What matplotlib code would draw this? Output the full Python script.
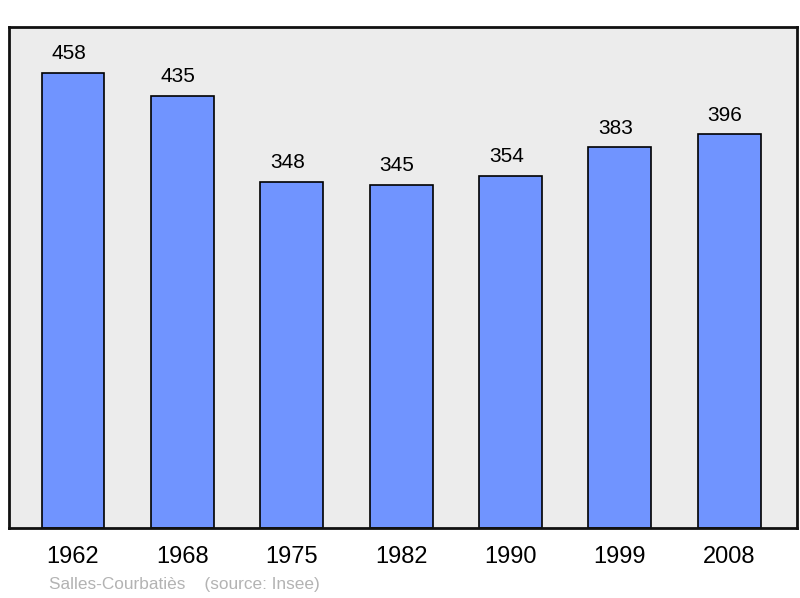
import matplotlib
matplotlib.use("Agg")
import matplotlib.pyplot as plt

years = ["1962", "1968", "1975", "1982", "1990", "1999", "2008"]
population = [458, 435, 348, 345, 354, 383, 396]

plt.rcParams['font.family'] = ['Liberation Sans', 'DejaVu Sans']

W, H = 800, 598
fig = plt.figure(figsize=(W/100, H/100), dpi=100)
ax = fig.add_axes([9/W, (H-528)/H, 788/W, 501/H])
ax.set_facecolor('#ececec')

x = list(range(len(years)))
ax.bar(x, population, width=0.575, color='#7094ff', edgecolor='black', linewidth=1.2, zorder=2)
ax.set_xlim(-0.585, 6.62)
ax.set_ylim(0, 504)

for xi, v in zip(x, population):
    ax.annotate(str(v), (xi, v), xytext=(-3, 7), textcoords='offset points',
                ha='center', va='bottom', fontsize=15, color='black')

ax.set_xticks(x)
ax.set_xticklabels(years, fontsize=17)
ax.tick_params(axis='x', length=0, pad=13)
ax.set_yticks([])
for s in ax.spines.values():
    s.set_linewidth(2)
    s.set_color('#111111')

fig.text(49/W, 1-584/H, "Salles-Courbatiès    (source: Insee)", fontsize=12.4,
         color='#b3b3b3', ha='left', va='center')

fig.savefig("out.png", dpi=100)
